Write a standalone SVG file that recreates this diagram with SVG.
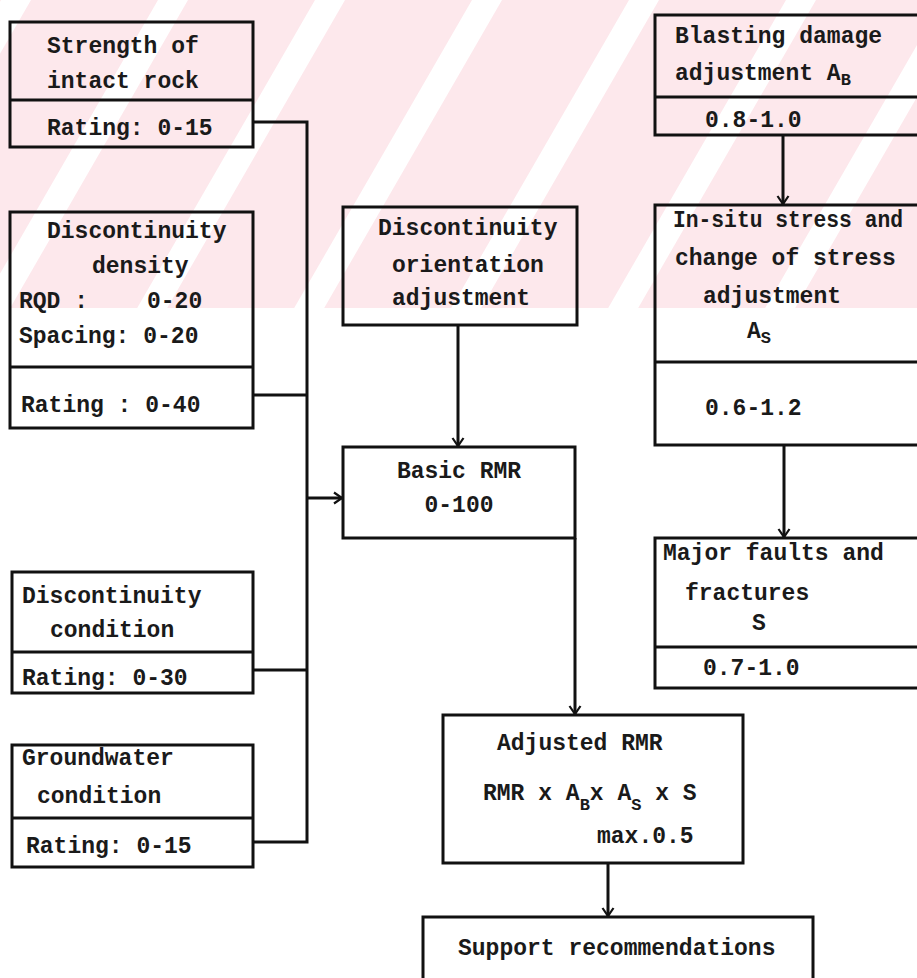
<svg xmlns="http://www.w3.org/2000/svg" width="917" height="978" viewBox="0 0 917 978">
<style>
.box{fill:none;stroke:#111;stroke-width:3}
.div{stroke:#111;stroke-width:3}
.t{font-family:"Liberation Mono","DejaVu Sans Mono",monospace;font-size:23px;font-weight:bold;fill:#1a1a1a}
.c{fill:none;stroke:#111;stroke-width:3}
</style>
<defs>
<pattern id="wm" patternUnits="userSpaceOnUse" width="157" height="160" patternTransform="skewX(-30)">
<rect width="157" height="160" fill="#fde8ec"/>
<rect x="1" width="30" height="160" fill="#ffffff"/>
</pattern>
<marker id="ah" markerUnits="userSpaceOnUse" markerWidth="14" markerHeight="14" refX="9" refY="7" orient="auto">
<path d="M1,1.5 L9,7 L1,12.5" fill="none" stroke="#111" stroke-width="2.2"/>
</marker>
</defs>
<rect width="917" height="978" fill="#ffffff"/>
<g id="watermark">
<rect x="0" y="0" width="917" height="308" fill="url(#wm)"/>
</g>

<g id="connectors">
<polyline class="c" points="253,122 307,122 307,842 253,842"/>
<line class="c" x1="253" y1="395" x2="307" y2="395"/>
<line class="c" x1="253" y1="670" x2="307" y2="670"/>
<line class="c" x1="307" y1="498" x2="342" y2="498" marker-end="url(#ah)"/>
<line class="c" x1="458" y1="325" x2="458" y2="446" marker-end="url(#ah)"/>
<line class="c" x1="575" y1="538" x2="575" y2="714" marker-end="url(#ah)"/>
<line class="c" x1="783" y1="135" x2="783" y2="204" marker-end="url(#ah)"/>
<line class="c" x1="784" y1="445" x2="784" y2="537" marker-end="url(#ah)"/>
<line class="c" x1="608" y1="863" x2="608" y2="916" marker-end="url(#ah)"/>
</g>

<g id="strength">
<rect class="box" x="10" y="22" width="243" height="125"/>
<line class="div" x1="10" y1="100" x2="253" y2="100"/>
<text class="t" x="47" y="53">Strength of</text>
<text class="t" x="47" y="88">intact rock</text>
<text class="t" x="47" y="135">Rating: 0-15</text>
</g>

<g id="density">
<rect class="box" x="10" y="212" width="243" height="216"/>
<line class="div" x1="10" y1="367" x2="253" y2="367"/>
<text class="t" x="47" y="238">Discontinuity</text>
<text class="t" x="92" y="273">density</text>
<text class="t" x="19" y="308">RQD :</text>
<text class="t" x="147" y="308">0-20</text>
<text class="t" x="19" y="343">Spacing: 0-20</text>
<text class="t" x="21" y="412">Rating : 0-40</text>
</g>

<g id="condition">
<rect class="box" x="12" y="572" width="241" height="121"/>
<line class="div" x1="12" y1="652" x2="253" y2="652"/>
<text class="t" x="22" y="603">Discontinuity</text>
<text class="t" x="50" y="637">condition</text>
<text class="t" x="22" y="685">Rating: 0-30</text>
</g>

<g id="groundwater">
<rect class="box" x="12" y="745" width="241" height="122"/>
<line class="div" x1="12" y1="818" x2="253" y2="818"/>
<text class="t" x="22" y="765">Groundwater</text>
<text class="t" x="37" y="803">condition</text>
<text class="t" x="26" y="853">Rating: 0-15</text>
</g>

<g id="orientation">
<rect class="box" x="343" y="207" width="234" height="118"/>
<text class="t" x="378" y="235">Discontinuity</text>
<text class="t" x="392" y="272">orientation</text>
<text class="t" x="392" y="305">adjustment</text>
</g>

<g id="basic">
<rect class="box" x="343" y="447" width="232" height="91"/>
<text class="t" x="459" y="478" text-anchor="middle">Basic RMR</text>
<text class="t" x="459" y="512" text-anchor="middle">0-100</text>
</g>

<g id="adjusted">
<rect class="box" x="443" y="715" width="300" height="148"/>
<text class="t" x="497" y="750">Adjusted RMR</text>
<text class="t" x="483" y="800">RMR x A<tspan font-size="17" dy="10">B</tspan><tspan dy="-10">x A</tspan><tspan font-size="17" dy="10">S</tspan><tspan dy="-10"> x S</tspan></text>
<text class="t" x="597" y="843">max.0.5</text>
</g>

<g id="support">
<rect class="box" x="423" y="917" width="390" height="80"/>
<text class="t" x="458" y="955">Support recommendations</text>
</g>

<g id="blasting">
<rect class="box" x="655" y="15" width="280" height="120"/>
<line class="div" x1="655" y1="97" x2="935" y2="97"/>
<text class="t" x="675" y="43">Blasting damage</text>
<text class="t" x="675" y="80">adjustment A<tspan font-size="17" dy="5">B</tspan></text>
<text class="t" x="705" y="127">0.8-1.0</text>
</g>

<g id="insitu">
<rect class="box" x="655" y="205" width="280" height="240"/>
<line class="div" x1="655" y1="362" x2="935" y2="362"/>
<text class="t" x="673" y="227" textLength="230" lengthAdjust="spacingAndGlyphs">In-situ stress and</text>
<text class="t" x="675" y="265">change of stress</text>
<text class="t" x="703" y="303">adjustment</text>
<text class="t" x="747" y="338">A<tspan font-size="17" dy="5">S</tspan></text>
<text class="t" x="705" y="415">0.6-1.2</text>
</g>

<g id="faults">
<rect class="box" x="655" y="538" width="280" height="150"/>
<line class="div" x1="655" y1="647" x2="935" y2="647"/>
<text class="t" x="663" y="560">Major faults and</text>
<text class="t" x="685" y="600">fractures</text>
<text class="t" x="752" y="630">S</text>
<text class="t" x="703" y="675">0.7-1.0</text>
</g>
</svg>
